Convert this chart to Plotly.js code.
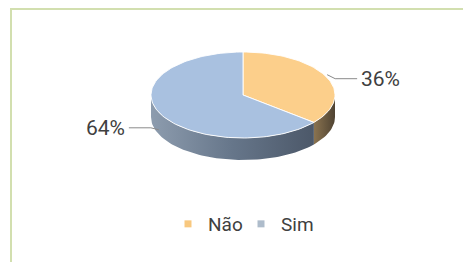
<!DOCTYPE html>
<html>
<head>
<meta charset="utf-8">
<script src="https://cdn.plot.ly/plotly-3.0.1.min.js"></script>
<style>html,body{margin:0;padding:0;background:#fff;}#chart{width:463px;height:262px;}</style>
</head>
<body>
<div id="chart"></div>
<script>
// ---- data ----
const categories = ['Não', 'Sim'];
const values = [36, 64];
const topColors = ['#fccf8b', '#a9c1e0'];
const legendColors = ['#f8c87f', '#aebccb'];
const wallScales = [
  [[0, '#8a7350'], [1, '#4f4332']],
  [[0, '#8d9cae'], [0.5, '#66768a'], [1, '#4c5869']]
];

// ---- pie geometry (pixel-like axes) ----
const cx = 243, cy = 95, rx = 92, ry = 43, depth = 22;
function pt(deg, dy) {
  const r = deg * Math.PI / 180;
  return [cx + rx * Math.sin(r), cy - ry * Math.cos(r) + dy];
}
function arc(a1, a2, dy) {
  const xs = [], ys = [];
  const n = Math.max(2, Math.ceil(Math.abs(a2 - a1) / 2));
  for (let i = 0; i <= n; i++) {
    const p = pt(a1 + (a2 - a1) * i / n, dy);
    xs.push(p[0]); ys.push(p[1]);
  }
  return [xs, ys];
}

const total = values.reduce((a, b) => a + b, 0);
const starts = [], ends = [];
let acc = 0;
values.forEach(v => { starts.push(acc / total * 360); acc += v; ends.push(acc / total * 360); });

const traces = [];
// walls (front half only: 90..270 deg)
values.forEach((v, i) => {
  const lo = Math.max(starts[i], 90), hi = Math.min(ends[i], 270);
  if (hi > lo) {
    const t = arc(lo, hi, 0), b = arc(hi, lo, depth);
    traces.push({
      type: 'scatter', mode: 'lines', x: t[0].concat(b[0]), y: t[1].concat(b[1]),
      fill: 'toself', line: {width: 0},
      fillgradient: {type: 'horizontal', colorscale: wallScales[i]},
      showlegend: false, hoverinfo: 'skip'
    });
  }
});
// top faces
values.forEach((v, i) => {
  const a = arc(starts[i], ends[i], 0);
  traces.push({
    type: 'scatter', mode: 'lines',
    x: [cx].concat(a[0], [cx]), y: [cy].concat(a[1], [cy]),
    fill: 'toself', fillcolor: topColors[i],
    line: {color: 'rgba(255,255,255,0.9)', width: 1},
    showlegend: false, hoverinfo: 'skip'
  });
});

// leader lines + labels
const annotations = [];
values.forEach((v, i) => {
  const mid = (starts[i] + ends[i]) / 2;
  const s = Math.sin(mid * Math.PI / 180), c = Math.cos(mid * Math.PI / 180);
  const x0 = cx + (rx + 1) * s;
  const y0 = cy - ry * c + (c < 0 ? depth * 0.75 : -2);
  const dir = s >= 0 ? 1 : -1;
  const x1 = x0 + dir * 30, y1 = y0 + (dir > 0 ? 4 : -2);
  traces.push({
    type: 'scatter', mode: 'lines', x: [x0, x0 + dir * 8, x1], y: [y0, y1, y1],
    line: {color: '#8a8a8a', width: 1}, showlegend: false, hoverinfo: 'skip'
  });
  annotations.push({
    x: x1 + dir * 2, y: y1, xref: 'x', yref: 'y', showarrow: false,
    text: Math.round(v / total * 100) + '%',
    xanchor: dir > 0 ? 'left' : 'right', yanchor: 'middle',
    font: {family: 'Roboto, sans-serif', size: 21, color: '#404040'}
  });
});

// legend entries
categories.forEach((c, i) => {
  traces.push({
    type: 'scatter', mode: 'markers', x: [null], y: [null], name: c,
    marker: {symbol: 'square', size: 7, color: legendColors[i]}, hoverinfo: 'skip'
  });
});

const layout = {
  width: 463, height: 262,
  margin: {l: 0, r: 0, t: 0, b: 0},
  paper_bgcolor: '#ffffff', plot_bgcolor: '#ffffff',
  xaxis: {range: [0, 463], visible: false, fixedrange: true},
  yaxis: {range: [262, 0], visible: false, fixedrange: true},
  showlegend: true,
  legend: {
    orientation: 'h', x: 168 / 463, xanchor: 'left', y: 1 - 224 / 262, yanchor: 'middle',
    font: {family: 'Roboto, sans-serif', size: 19, color: '#404040'},
    itemwidth: 30, entrywidth: 28, entrywidthmode: 'pixels', bgcolor: 'rgba(0,0,0,0)'
  },
  annotations: annotations,
  shapes: [{
    type: 'rect', xref: 'x', yref: 'y', x0: 11, y0: 9, x1: 480, y1: 280,
    line: {color: '#d2dfaf', width: 2}, layer: 'below'
  }]
};

Plotly.newPlot('chart', traces, layout, {displayModeBar: false, staticPlot: true});
</script>
</body>
</html>
